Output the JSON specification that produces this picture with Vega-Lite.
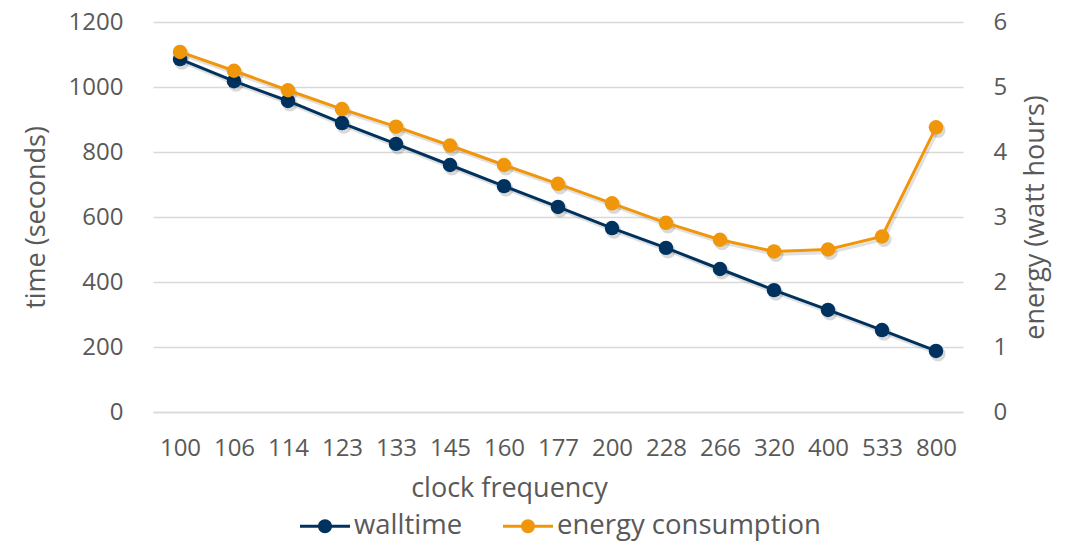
{
  "$schema": "https://vega.github.io/schema/vega-lite/v6.json",
  "width": 810,
  "height": 390,
  "autosize": {"type": "none"},
  "padding": {"left": 153, "top": 22, "right": 111, "bottom": 129},
  "background": "white",
  "config": {
    "font": "Open Sans",
    "view": {"stroke": null},
    "axis": {
      "labelFont": "Open Sans",
      "titleFont": "Open Sans",
      "labelFontSize": 24,
      "titleFontSize": 27,
      "labelColor": "#595959",
      "titleColor": "#595959",
      "titleFontWeight": "normal",
      "gridColor": "#d9d9d9",
      "gridWidth": 1.3,
      "ticks": false,
      "domain": false,
      "labelOverlap": false
    },
    "legend": {
      "labelFont": "Open Sans",
      "labelFontSize": 27.5,
      "labelColor": "#595959",
      "labelLimit": 500
    }
  },
  "data": {
    "values": [
      {"clock": "100", "walltime": 1086, "energy": 5.54},
      {"clock": "106", "walltime": 1018, "energy": 5.25},
      {"clock": "114", "walltime": 957, "energy": 4.95},
      {"clock": "123", "walltime": 889, "energy": 4.66},
      {"clock": "133", "walltime": 825, "energy": 4.39},
      {"clock": "145", "walltime": 760, "energy": 4.10},
      {"clock": "160", "walltime": 695, "energy": 3.80},
      {"clock": "177", "walltime": 631, "energy": 3.51},
      {"clock": "200", "walltime": 566, "energy": 3.21},
      {"clock": "228", "walltime": 505, "energy": 2.91},
      {"clock": "266", "walltime": 440, "energy": 2.65},
      {"clock": "320", "walltime": 375, "energy": 2.47},
      {"clock": "400", "walltime": 314, "energy": 2.50},
      {"clock": "533", "walltime": 252, "energy": 2.70},
      {"clock": "800", "walltime": 188, "energy": 4.38}
    ]
  },
  "encoding": {
    "x": {
      "field": "clock",
      "type": "ordinal",
      "sort": null,
      "scale": {"type": "point", "padding": 0.5},
      "axis": {
        "title": "clock frequency",
        "labelAngle": 0,
        "labelPadding": 24,
        "titlePadding": 15,
        "titleX": 356,
        "titleAlign": "center",
        "grid": false,
        "domain": true,
        "domainColor": "#d9d9d9",
        "domainWidth": 1.3
      }
    },
    "color": {
      "type": "nominal",
      "scale": {
        "domain": ["walltime", "energy consumption"],
        "range": ["#00325f", "#f0960a"]
      },
      "legend": {
        "title": null,
        "orient": "none",
        "direction": "horizontal",
        "legendX": 147,
        "legendY": 479,
        "columnPadding": 40,
        "labelOffset": 4,
        "symbolType": "M-1,-0.06H1V0.06H-1Z M0.28,0A0.28,0.28 0 1 1 -0.28,0A0.28,0.28 0 1 1 0.28,0Z",
        "symbolSize": 2500,
        "symbolStrokeWidth": 0,
        "encode": {
          "symbols": {
            "update": {
              "fill": {"scale": "color", "field": "value"},
              "strokeWidth": {"value": 0},
              "opacity": {"value": 1}
            }
          }
        }
      }
    }
  },
  "layer": [
    {
      "encoding": {
        "y": {
          "field": "walltime",
          "type": "quantitative",
          "scale": {"domain": [0, 1200]},
          "axis": {
            "title": "time (seconds)",
            "orient": "left",
            "format": "d",
            "values": [0, 200, 400, 600, 800, 1000, 1200],
            "labelPadding": 30,
            "titlePadding": 18,
            "grid": true
          }
        }
      },
      "layer": [
        {"mark": {"type": "line", "strokeWidth": 3, "color": "#000000", "opacity": 0.12, "xOffset": 2, "yOffset": 3}},
        {"mark": {"type": "point", "filled": true, "size": 230, "color": "#000000", "opacity": 0.15, "xOffset": 2, "yOffset": 3}},
        {"mark": {"type": "line", "strokeWidth": 3}, "encoding": {"color": {"datum": "walltime"}}},
        {"mark": {"type": "point", "filled": true, "size": 210, "opacity": 1}, "encoding": {"color": {"datum": "walltime"}}}
      ]
    },
    {
      "encoding": {
        "y": {
          "field": "energy",
          "type": "quantitative",
          "scale": {"domain": [0, 6]},
          "axis": {
            "title": "energy (watt hours)",
            "orient": "right",
            "format": "d",
            "values": [0, 1, 2, 3, 4, 5, 6],
            "labelPadding": 30,
            "titlePadding": 16,
            "titleAngle": -90,
            "titleBaseline": "top",
            "grid": false
          }
        }
      },
      "layer": [
        {"mark": {"type": "line", "strokeWidth": 3, "color": "#000000", "opacity": 0.12, "xOffset": 2, "yOffset": 3}},
        {"mark": {"type": "point", "filled": true, "size": 230, "color": "#000000", "opacity": 0.15, "xOffset": 2, "yOffset": 3}},
        {"mark": {"type": "line", "strokeWidth": 3}, "encoding": {"color": {"datum": "energy consumption"}}},
        {"mark": {"type": "point", "filled": true, "size": 210, "opacity": 1}, "encoding": {"color": {"datum": "energy consumption"}}}
      ]
    }
  ],
  "resolve": {"scale": {"y": "independent"}}
}
